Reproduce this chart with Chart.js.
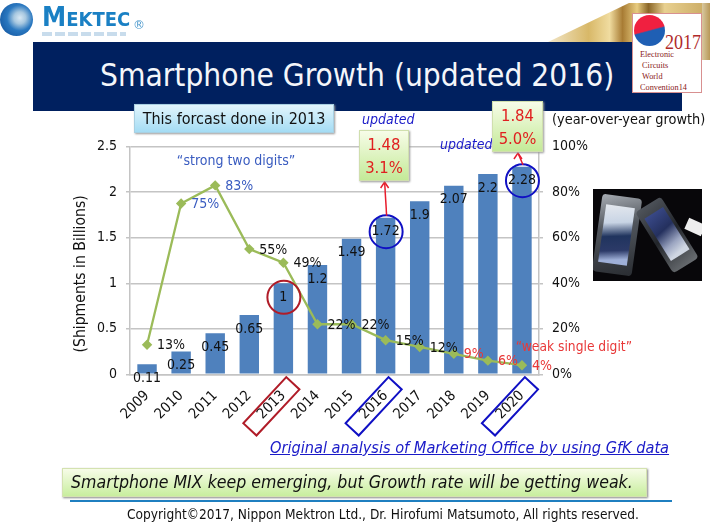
<!DOCTYPE html>
<html><head><meta charset="utf-8">
<script src="https://cdn.jsdelivr.net/npm/chart.js@4"></script>
<style>
html,body{margin:0;padding:0;background:#fff;width:710px;height:530px;overflow:hidden}
#stage{position:relative;width:710px;height:530px;overflow:hidden;font-family:"DejaVu Sans Condensed","DejaVu Sans",sans-serif;filter:blur(0.4px)}
#stage div{position:absolute;white-space:nowrap}
canvas{position:absolute;left:0;top:0;z-index:1}
.over{z-index:2}
.cb{box-sizing:border-box;background:linear-gradient(#f7fce8,#c4ea98);border:1px solid #d0dfae;box-shadow:1px 1px 2px #999;text-align:center;color:#e02020;font-size:16.5px;line-height:23px;padding-top:2px}
</style></head><body>
<div id="stage">
  <div style="left:548px;top:3px;width:162px;height:39px;background:linear-gradient(90deg,#f2e6c8 0,#d8b868 25%,#f0dca0 38%,#a87c34 46%,#e8cc80 55%,#8a6628 62%,#e8d090 72%,#c8a860 100%);clip-path:polygon(100% 0,100% 100%,0 100%,50% 0)"></div>
  <div style="left:702px;top:3px;width:8px;height:57px;background:linear-gradient(90deg,#d8c8a0,#b89858)"></div>
  <div style="left:33px;top:42px;width:649px;height:69px;background:#00205f"></div>
  <div style="left:100px;top:57px;color:#f4f6fa;font:31.4px 'DejaVu Sans Condensed'">Smartphone Growth (updated 2016)</div>
  <div style="left:0;top:3px;width:33px;height:33px;border-radius:50%;background:radial-gradient(circle at 60% 45%,#d8e8f4 0,#a8c8e0 22%,#2a78c0 48%,#0c4a94 100%)"></div>
  <div style="left:42px;top:1px;color:#1a80c4;font:bold 27px 'DejaVu Sans Condensed'">M<span style="font-size:20px">EKTEC</span></div>
  <div style="left:42px;top:32px;width:84px;height:4px;background:repeating-linear-gradient(90deg,#c8dcec 0 10px,#fff 10px 13px)"></div>
  <div style="left:133px;top:18px;color:#4a98cc;font:12px 'DejaVu Sans'">®</div>
  <div class="over" style="left:632px;top:13px;width:70px;height:80px;background:#fff;border:1px solid #d89090;box-sizing:border-box"></div>
  <div class="over" style="left:634px;top:15px;width:31px;height:31px;border-radius:50%;background:linear-gradient(165deg,#f02040 48%,#1f5fb4 52%)"></div>
  <div class="over" style="left:665px;top:29px;color:#b02a2a;font:22px 'Liberation Serif';transform:scaleX(0.82);transform-origin:left top">2017</div>
  <div class="over" style="left:640px;top:49px;color:#8a2020;font:9px/11px 'Liberation Serif';transform:scaleX(0.92);transform-origin:left top">Electronic<br>&nbsp;Circuits<br>&nbsp;World<br>Convention14</div>

  <div style="left:593px;top:189px;width:109px;height:92px;background:#08070a;overflow:hidden">
    <div style="left:4px;top:7px;width:40px;height:78px;background:linear-gradient(160deg,#a8adb4,#50555c 40%,#2a2d32);border-radius:4px;transform:rotate(8deg)"></div>
    <div style="left:9px;top:17px;width:29px;height:58px;background:linear-gradient(170deg,#e4e8ee 0,#c8d4e4 30%,#20345e 52%,#2c3a68 75%,#9fb0d8 90%);transform:rotate(8deg)"></div>
    <div style="left:59px;top:10px;width:30px;height:72px;background:linear-gradient(170deg,#50555c,#22252a 50%,#6a6e72);border-radius:4px;transform:rotate(-32deg)"></div>
    <div style="left:63px;top:20px;width:22px;height:50px;background:linear-gradient(170deg,#3a4a8a 0,#24305e 40%,#9aa4c0 70%,#cfd6e2 90%);transform:rotate(-32deg)"></div>
    <div style="left:93px;top:32px;width:18px;height:12px;background:#eee;transform:rotate(24deg)"></div>
  </div>

  <canvas id="c" width="710" height="530" style="width:710px;height:530px"></canvas>

  <div class="over" style="left:134px;top:104px;width:200px;height:29px;line-height:28px;text-align:center;font-size:16px;color:#111;background:linear-gradient(#e2f5fc,#a4dcf4);border:1px solid #a8d0e2;box-sizing:border-box;box-shadow:1px 1px 2px #999">This forcast done in 2013</div>
  <div class="over" style="left:362px;top:111px;color:#1a1ac8;font:italic 14px 'DejaVu Sans Condensed'">updated</div>
  <div class="over" style="left:440px;top:136px;color:#1a1ac8;font:italic 14px 'DejaVu Sans Condensed'">updated</div>
  <div class="over cb" style="left:359px;top:130px;width:50px;height:51px">1.48<br>3.1%</div>
  <div class="over cb" style="left:492px;top:101px;width:51px;height:51px">1.84<br>5.0%</div>
  <div class="over" style="left:552px;top:111px;color:#111;font-size:14.4px">(year-over-year growth)</div>
  <div class="over" style="left:270px;top:438px;color:#1a1ac8;font:italic 16.2px 'DejaVu Sans Condensed';text-decoration:underline">Original analysis of Marketing Office by using GfK data</div>
  <div class="over" style="left:70px;top:500px;width:602px;height:2px;background:#1f7fc0"></div>
  <div class="over" style="left:62px;top:468px;width:585px;height:29px;box-sizing:border-box;background:linear-gradient(#f7fce8,#c8ee9e);border:1px solid #d4e2b0;box-shadow:1px 1px 2px #888;padding-left:8px;font:italic 17.6px/27px 'DejaVu Sans Condensed';color:#111">Smartphone MIX keep emerging, but Growth rate will be getting weak.</div>
  <div class="over" style="left:127px;top:506px;color:#111;font-size:13.6px">Copyright©2017, Nippon Mektron Ltd., Dr. Hirofumi Matsumoto, All rights reserved.</div>
</div>
<script>
const years = ['2009','2010','2011','2012','2013','2014','2015','2016','2017','2018','2019','2020'];
const shipments = [0.11,0.25,0.45,0.65,1,1.2,1.49,1.72,1.9,2.07,2.2,2.28];
const growth = [13,75,83,55,49,22,22,15,12,9,6,4];
const growthColors = ['#111','#3a5cc0','#3a5cc0','#111','#111','#111','#111','#111','#111','#e83838','#e83838','#e83838'];
const growthLabelDx = [24,24,24,24,24,24,24,24,24,20,20,20];
const yTicks = [0,0.5,1,1.5,2,2.5];
const FONT = '"DejaVu Sans Condensed","DejaVu Sans",sans-serif';

const decor = {
  id:'decor',
  afterDatasetsDraw(ch){
    const {ctx,scales:{x,y,y1}} = ch;
    ctx.save();
    ctx.textAlign='center'; ctx.textBaseline='middle';
    ctx.font='14px '+FONT;
    shipments.forEach((v,i)=>{ ctx.fillStyle='#111'; ctx.fillText(String(v),x.getPixelForValue(i),y.getPixelForValue(v)+14); });
    growth.forEach((v,i)=>{ ctx.fillStyle=growthColors[i]; ctx.fillText(v+'%',x.getPixelForValue(i)+growthLabelDx[i],y1.getPixelForValue(v)+1); });
    ctx.fillStyle='#3a5cc0'; ctx.fillText('\u201Cstrong two digits\u201D',x.getPixelForValue(1)+55,y.getPixelForValue(2.34));
    ctx.font='13.7px '+FONT;
    ctx.fillStyle='#e83838'; ctx.fillText('\u201Cweak single digit\u201D',x.getPixelForValue(11)+52,y.getPixelForValue(0.3));
    // circles around highlighted bars
    [[4,'#b01c28'],[7,'#1010c4'],[11,'#1010c4']].forEach(([i,c])=>{
      ctx.beginPath(); ctx.lineWidth=2; ctx.strokeStyle=c;
      ctx.arc(x.getPixelForValue(i)+0.5,y.getPixelForValue(shipments[i])+14,16.5,0,Math.PI*2); ctx.stroke();
    });
    // boxes around highlighted tick labels
    [[4,'#b01c28'],[7,'#1010c4'],[11,'#1010c4']].forEach(([i,c])=>{
      ctx.save();
      ctx.translate(x.getPixelForValue(i)-12,y.bottom+32);
      ctx.rotate(-47*Math.PI/180);
      ctx.lineWidth=2; ctx.strokeStyle=c;
      ctx.strokeRect(-31.5,-9,63,18);
      ctx.restore();
    });
    // arrows
    [[7,182,-2],[11,153,-5]].forEach(([i,top,dx])=>{
      const px=x.getPixelForValue(i)+1, sy=y.getPixelForValue(shipments[i])-2;
      const ex=px+dx;
      ctx.strokeStyle='#e81c2c'; ctx.lineWidth=1.5;
      ctx.beginPath(); ctx.moveTo(px,sy); ctx.lineTo(ex,top); ctx.stroke();
      ctx.beginPath(); ctx.moveTo(ex-4,top+6); ctx.lineTo(ex,top); ctx.lineTo(ex+4,top+6); ctx.stroke();
    });
    ctx.restore();
  }
};

new Chart(document.getElementById('c'),{
  data:{labels:years,datasets:[
    {type:'line',data:growth,yAxisID:'y1',borderColor:'#9bbb59',backgroundColor:'#9bbb59',borderWidth:2.3,pointStyle:'rectRot',pointRadius:3.6,tension:0,order:0},
    {type:'bar',data:shipments,yAxisID:'y',backgroundColor:'#4f81bd',categoryPercentage:1,barPercentage:0.57,order:1}
  ]},
  options:{
    responsive:false,animation:false,devicePixelRatio:1,
    layout:{padding:{left:72,top:146.7,right:0,bottom:0}},
    plugins:{legend:{display:false},tooltip:{enabled:false}},
    scales:{
      x:{grid:{display:false},border:{color:'#c4c4c4',width:1.5},
         ticks:{maxRotation:45,minRotation:45,color:'#111',font:{size:14.5,family:FONT},padding:5},
         afterFit(s){s.height=155.7}},
      y:{position:'left',min:0,max:2.5,afterBuildTicks(s){s.ticks=yTicks.map(v=>({value:v}))},
         grid:{color:'#c4c4c4',lineWidth:1.5,tickLength:4},border:{color:'#c4c4c4',width:1.5},
         title:{display:true,text:'(Shipments in Billions)      ',color:'#111',font:{size:15.6,family:FONT},padding:0},
         ticks:{color:'#111',font:{size:14,family:FONT},padding:9,callback:v=>String(v)},
         afterFit(s){s.width=58}},
      y1:{position:'right',min:0,max:100,
         grid:{drawOnChartArea:false,color:'#c4c4c4',lineWidth:1.5,tickLength:4},border:{color:'#c4c4c4',width:1.5},
         ticks:{color:'#111',font:{size:14,family:FONT},padding:9,stepSize:20,callback:v=>v+'%'},
         afterFit(s){s.width=171}}
    }
  },
  plugins:[decor]
});
</script>
</body></html>
